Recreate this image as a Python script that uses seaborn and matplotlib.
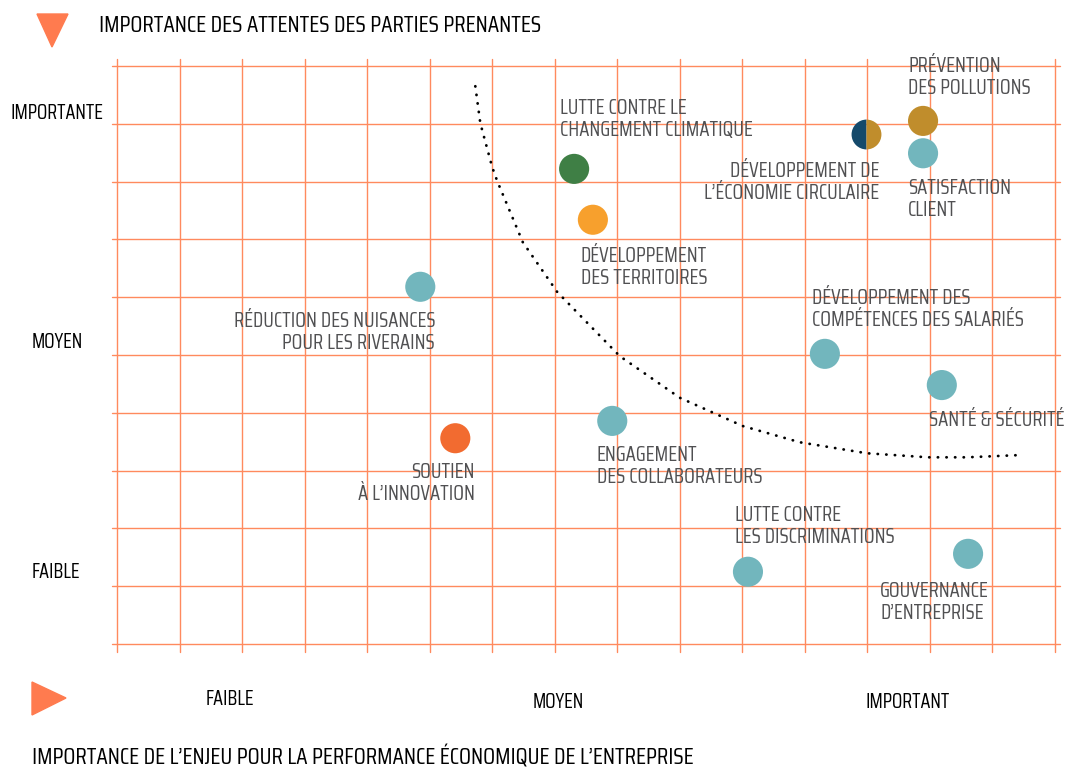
"""
Matrice de matérialité : importance des enjeux RSE
pour les parties prenantes vs. performance économique.
"""

import matplotlib
matplotlib.use("Agg")
import matplotlib.pyplot as plt
from matplotlib import font_manager as fm
import seaborn as sns
import pandas as pd

# =============================
# DATA
# =============================

issues = [
    "climat", "territoires", "economie_circulaire", "pollutions", "satisfaction",
    "nuisances", "competences", "sante", "engagement", "innovation",
    "discriminations", "gouvernance",
]
imp_economique = [7.31, 7.61, 11.98, 12.89, 12.89, 4.85, 11.32, 13.19, 7.92, 5.41, 10.09, 13.61]
imp_parties = [8.22, 7.34, 8.82, 9.05, 8.49, 6.18, 5.02, 4.48, 3.86, 3.56, 1.25, 1.56]
colors = {
    "climat": "#3F7F45",
    "territoires": "#F7A02D",
    "economie_circulaire": "#C08D2C",
    "pollutions": "#C08D2C",
    "satisfaction": "#72B6BD",
    "nuisances": "#72B6BD",
    "competences": "#72B6BD",
    "sante": "#72B6BD",
    "engagement": "#72B6BD",
    "innovation": "#F26B30",
    "discriminations": "#72B6BD",
    "gouvernance": "#72B6BD",
}

labels = {
    "climat": "LUTTE CONTRE LE\nCHANGEMENT CLIMATIQUE",
    "territoires": "DÉVELOPPEMENT\nDES TERRITOIRES",
    "economie_circulaire": "DÉVELOPPEMENT DE\nL’ÉCONOMIE CIRCULAIRE",
    "pollutions": "PRÉVENTION\nDES POLLUTIONS",
    "satisfaction": "SATISFACTION\nCLIENT",
    "nuisances": "RÉDUCTION DES NUISANCES\nPOUR LES RIVERAINS",
    "competences": "DÉVELOPPEMENT DES\nCOMPÉTENCES DES SALARIÉS",
    "sante": "SANTÉ & SÉCURITÉ",
    "engagement": "ENGAGEMENT\nDES COLLABORATEURS",
    "innovation": "SOUTIEN\nÀ L’INNOVATION",
    "discriminations": "LUTTE CONTRE\nLES DISCRIMINATIONS",
    "gouvernance": "GOUVERNANCE\nD’ENTREPRISE",
}

# courbe de seuil (pointillés)
seuil_x = [5.73, 5.81, 6.00, 6.08, 6.49, 7.04, 8.04, 9.00, 10.01, 10.92, 11.99, 12.97, 13.59, 14.47]
seuil_y = [9.65, 9.01, 8.25, 8.01, 6.95, 6.09, 4.98, 4.26, 3.77, 3.49, 3.30, 3.23, 3.23, 3.27]

y_ticks = ["IMPORTANTE", "MOYEN", "FAIBLE"]
x_ticks = ["FAIBLE", "MOYEN", "IMPORTANT"]
title_y = "IMPORTANCE DES ATTENTES DES PARTIES PRENANTES"
title_x = "IMPORTANCE DE L’ENJEU POUR LA PERFORMANCE ÉCONOMIQUE DE L’ENTREPRISE"

# =============================
# LAYOUT (pixels)
# =============================

W, H = 1070, 769
ORANGE = "#FF7B4F"
GRID = "#FF8A5E"
TXT = "#505052"
LINE_STEP = 21.5

# label anchors: (x, y centre du bloc, ha)
label_pos = {
    "climat": (560, 119, "left"),
    "territoires": (581, 267, "left"),
    "economie_circulaire": (879, 182, "right"),
    "pollutions": (908, 77, "left"),
    "satisfaction": (908, 199, "left"),
    "nuisances": (435, 332, "right"),
    "competences": (812, 309, "left"),
    "sante": (929, 420, "left"),
    "engagement": (597, 466, "left"),
    "innovation": (475, 483, "right"),
    "discriminations": (735, 526, "left"),
    "gouvernance": (880, 602, "left"),
}

sns.set_theme(style="white")
plt.rcParams["font.family"] = ["DejaVu Sans"]


def fx(px):
    return px / W


def fy(py):
    return 1 - py / H


fig = plt.figure(figsize=(W / 100, H / 100), dpi=100)
renderer = fig.canvas.get_renderer()


def text_width(sample, props):
    t = fig.text(0, 0, sample, fontproperties=props, fontsize=10)
    w = t.get_window_extent(renderer).width
    t.remove()
    return w


SAMPLE, SAMPLE_W = "CHANGEMENT CLIMATIQUE", 192
TARGET_PT = 15  # ~ hauteur des capitales du modèle

# police condensée dont la taille ajustée est la plus proche du modèle
cond = [
    f for f in fm.fontManager.ttflist
    if ("Narrow" in f.name or "Condensed" in f.name
        or f.stretch in ("condensed", "semi-condensed", "extra-condensed", "ultra-condensed"))
    and f.style == "normal" and str(f.weight) in ("400", "normal", "regular", "book")
]
if cond:
    props = [fm.FontProperties(fname=f.fname) for f in cond]
    fp = min(props, key=lambda p: abs(10 * SAMPLE_W / text_width(SAMPLE, p) - TARGET_PT))
else:
    fp = fm.FontProperties(family="DejaVu Sans")


def fit_size(sample, target_px, cap):
    return min(10 * target_px / text_width(sample, fp), cap)


size_cat = fit_size(SAMPLE, SAMPLE_W, 16)
size_axis = fit_size("IMPORTANTE", 93, 15)
size_title = fit_size(title_y, 441, 17)

ax = fig.add_axes([fx(117), fy(644), (1055 - 117) / W, (644 - 66) / H])
ax.set_xlim(0, 15)
ax.set_ylim(0, 10)
ax.axis("off")

# grille
for i in range(16):
    ax.plot([i, i], [-0.14, 10.12], color=GRID, lw=1.0, clip_on=False, zorder=1)
for j in range(11):
    ax.plot([-0.08, 15.08], [j, j], color=GRID, lw=1.0, clip_on=False, zorder=1)

# courbe
ax.plot(seuil_x, seuil_y, color="black", lw=2.0,
        linestyle=(0, (0.1, 3.0)), dash_capstyle="round", zorder=2)

# points
df = pd.DataFrame({"issue": issues, "x": imp_economique, "y": imp_parties})
plain = df[df["issue"] != "economie_circulaire"]
sns.scatterplot(data=plain, x="x", y="y", hue="issue", palette=colors,
                s=470, linewidth=0, legend=False, ax=ax, zorder=3, clip_on=False)
half = df[df["issue"] == "economie_circulaire"]
ax.plot(half["x"], half["y"], marker="o", markersize=21.5, linestyle="none",
        fillstyle="left", markerfacecolor="#154A6B", markerfacecoloralt="#C08D2C",
        markeredgewidth=0, zorder=3)
ax.set_xlabel("")
ax.set_ylabel("")

# étiquettes des enjeux (une ligne à la fois)
for key, (px, py, ha) in label_pos.items():
    lines = labels[key].split("\n")
    n = len(lines)
    for k, line in enumerate(lines):
        yk = py + (k - (n - 1) / 2) * LINE_STEP
        fig.text(fx(px), fy(yk), line, ha=ha, va="center", color=TXT,
                 fontproperties=fp, fontsize=size_cat)

# axes qualitatifs
for txt, px, py in zip(y_ticks, [10, 32, 32], [113, 342, 572]):
    fig.text(fx(px), fy(py), txt, ha="left", va="center", color="black",
             fontproperties=fp, fontsize=size_axis)
for txt, px, py in zip(x_ticks, [230, 558, 908], [699, 702, 702]):
    fig.text(fx(px), fy(py), txt, ha="center", va="center", color="black",
             fontproperties=fp, fontsize=size_axis)

fig.text(fx(99), fy(25), title_y, ha="left", va="center", color="black",
         fontproperties=fp, fontsize=size_title)
fig.text(fx(32), fy(757), title_x, ha="left", va="center", color="black",
         fontproperties=fp, fontsize=size_title)

# flèches triangles
fig.patches.append(plt.Polygon([(fx(37), fy(14)), (fx(68), fy(14)), (fx(52), fy(47))],
                               closed=True, transform=fig.transFigure,
                               color=ORANGE, figure=fig))
fig.patches.append(plt.Polygon([(fx(32), fy(682)), (fx(32), fy(715)), (fx(66), fy(698))],
                               closed=True, transform=fig.transFigure,
                               color=ORANGE, figure=fig))

fig.savefig("out.png", dpi=100)
